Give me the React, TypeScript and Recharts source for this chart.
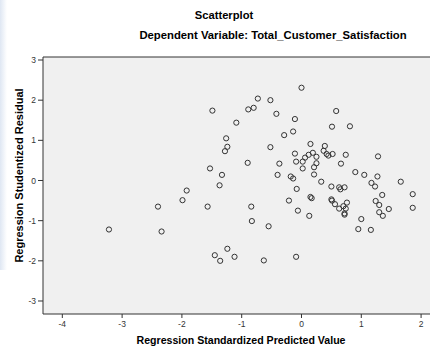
import React from 'react';
import { ScatterChart, Scatter, XAxis, YAxis, CartesianGrid, ReferenceLine } from 'recharts';

const predicted = [
  -1.49, 0.0, -0.73, -0.52, -0.89, -0.8, 0.58, -0.42, -0.11, -1.09,
  0.51, 0.81, -0.14, -0.29, -1.26, -1.24, -1.28, -0.52, 0.15, 0.39,
  0.37, 0.42, 0.45, 0.52, 0.74, 1.28, -0.11, 0.19, 0.12, 0.06,
  0.25, -0.09, 0.02, 0.25, 0.21, 0.02, -0.9, -0.37, 0.66, -1.53,
  -1.33, -1.37, -0.4, -0.18, -0.14, 0.21, 0.33, -0.08, 0.5, 0.63,
  0.65, 0.72, 0.9, 1.05, 1.27, 1.17, 1.23, 1.35, 1.66, 1.86,
  -0.21, 0.15, 0.17, 0.5, 0.51, 0.56, 0.76, 0.7, 0.74, 0.63,
  0.72, 0.72, 1.24, 1.3, 1.3, 1.36, 1.46, 1.86, 1.0, 0.95,
  1.16, -0.84, -0.83, -0.55, -0.06, 0.13, -1.24, -1.36, -1.12, -0.63,
  -0.09, -1.45, -1.92, -1.99, -2.4, -1.57, -3.22, -2.34,
];

const residual = [
  1.74, 2.31, 2.04, 2.0, 1.77, 1.81, 1.73, 1.66, 1.53, 1.44,
  1.34, 1.35, 1.22, 1.13, 1.05, 0.84, 0.73, 0.83, 0.91, 0.86,
  0.74, 0.66, 0.62, 0.66, 0.64, 0.6, 0.67, 0.69, 0.64, 0.57,
  0.59, 0.47, 0.47, 0.43, 0.33, 0.3, 0.44, 0.42, 0.42, 0.3,
  0.14, -0.12, 0.14, 0.1, 0.05, 0.15, -0.03, -0.21, -0.15, -0.17,
  -0.22, -0.17, 0.21, 0.14, 0.1, -0.06, -0.15, -0.36, -0.03, -0.34,
  -0.5, -0.41, -0.44, -0.47, -0.5, -0.59, -0.55, -0.64, -0.7, -0.7,
  -0.82, -0.85, -0.51, -0.61, -0.79, -0.88, -0.71, -0.68, -0.96, -1.21,
  -1.23, -0.65, -1.01, -1.14, -0.75, -0.88, -1.7, -2.0, -1.9, -1.99,
  -1.9, -1.86, -0.25, -0.49, -0.65, -0.65, -1.22, -1.27,
];

const xTicks = [-4, -3, -2, -1, 0, 1, 2];
const yTicks = [-3, -2, -1, 0, 1, 2, 3];

const X_MIN = -4.323;
const X_MAX = 2.149;
const Y_MIN = -3.324;
const Y_MAX = 3.075;

const FONT = '"Liberation Sans", Arial, sans-serif';
const INK = '#333333';

const Dot = (props: any) => {
  const { cx, cy } = props;
  if (cx == null || cy == null) return null;
  return <circle cx={cx} cy={cy} r={2.6} fill="none" stroke={INK} strokeWidth={1} />;
};

export default function App() {
  const data = predicted.map((x, i) => ({ x, y: residual[i] }));
  const tickStyle = { fontSize: 8.5, fill: INK, fontFamily: FONT };
  return (
    <div
      style={{
        position: 'absolute',
        left: 0,
        top: 0,
        width: 430,
        height: 349,
        background: '#ffffff',
        overflow: 'hidden',
        fontFamily: FONT,
      }}
    >
      <div
        style={{
          position: 'absolute',
          left: 0,
          top: 0,
          width: 7,
          height: 270,
          background: 'linear-gradient(to right, #dfe7f3, rgba(255,255,255,0))',
        }}
      />
      <ScatterChart width={430} height={349} margin={{ top: 57, right: 0, bottom: 0, left: 0 }}>
        <CartesianGrid horizontal={false} vertical={false} fill="#F0F0F0" />
        <XAxis
          type="number"
          dataKey="x"
          domain={[X_MIN, X_MAX]}
          ticks={xTicks}
          allowDataOverflow
          height={35}
          tickSize={4}
          tickMargin={3}
          tick={tickStyle}
          tickLine={{ stroke: INK }}
          axisLine={{ stroke: INK }}
        />
        <YAxis
          type="number"
          dataKey="y"
          domain={[Y_MIN, Y_MAX]}
          ticks={yTicks}
          allowDataOverflow
          width={43}
          tickSize={5}
          tickMargin={2}
          tick={tickStyle}
          tickLine={{ stroke: INK }}
          axisLine={{ stroke: INK }}
        />
        <ReferenceLine y={Y_MAX} stroke={INK} ifOverflow="extendDomain" />
        <Scatter data={data} isAnimationActive={false} shape={Dot} />
      </ScatterChart>
      <div
        style={{
          position: 'absolute',
          left: 124,
          width: 200,
          top: 9,
          fontSize: 11.2,
          lineHeight: '13px',
          fontWeight: 'bold',
          textAlign: 'center',
          color: '#000',
        }}
      >
        Scatterplot
      </div>
      <div
        style={{
          position: 'absolute',
          left: 73,
          width: 400,
          top: 29,
          fontSize: 11.3,
          lineHeight: '13px',
          fontWeight: 'bold',
          textAlign: 'center',
          color: '#000',
        }}
      >
        Dependent Variable: Total_Customer_Satisfaction
      </div>
      <div
        style={{
          position: 'absolute',
          left: 41,
          width: 400,
          top: 334,
          fontSize: 10.6,
          lineHeight: '13px',
          fontWeight: 'bold',
          textAlign: 'center',
          color: '#000',
        }}
      >
        Regression Standardized Predicted Value
      </div>
      <div
        style={{
          position: 'absolute',
          left: 18.5 - 150,
          width: 300,
          top: 175.5 - 6.5,
          fontSize: 11,
          lineHeight: '13px',
          fontWeight: 'bold',
          textAlign: 'center',
          color: '#000',
          transform: 'rotate(-90deg)',
          transformOrigin: '50% 50%',
        }}
      >
        Regression Studentized Residual
      </div>
    </div>
  );
}
